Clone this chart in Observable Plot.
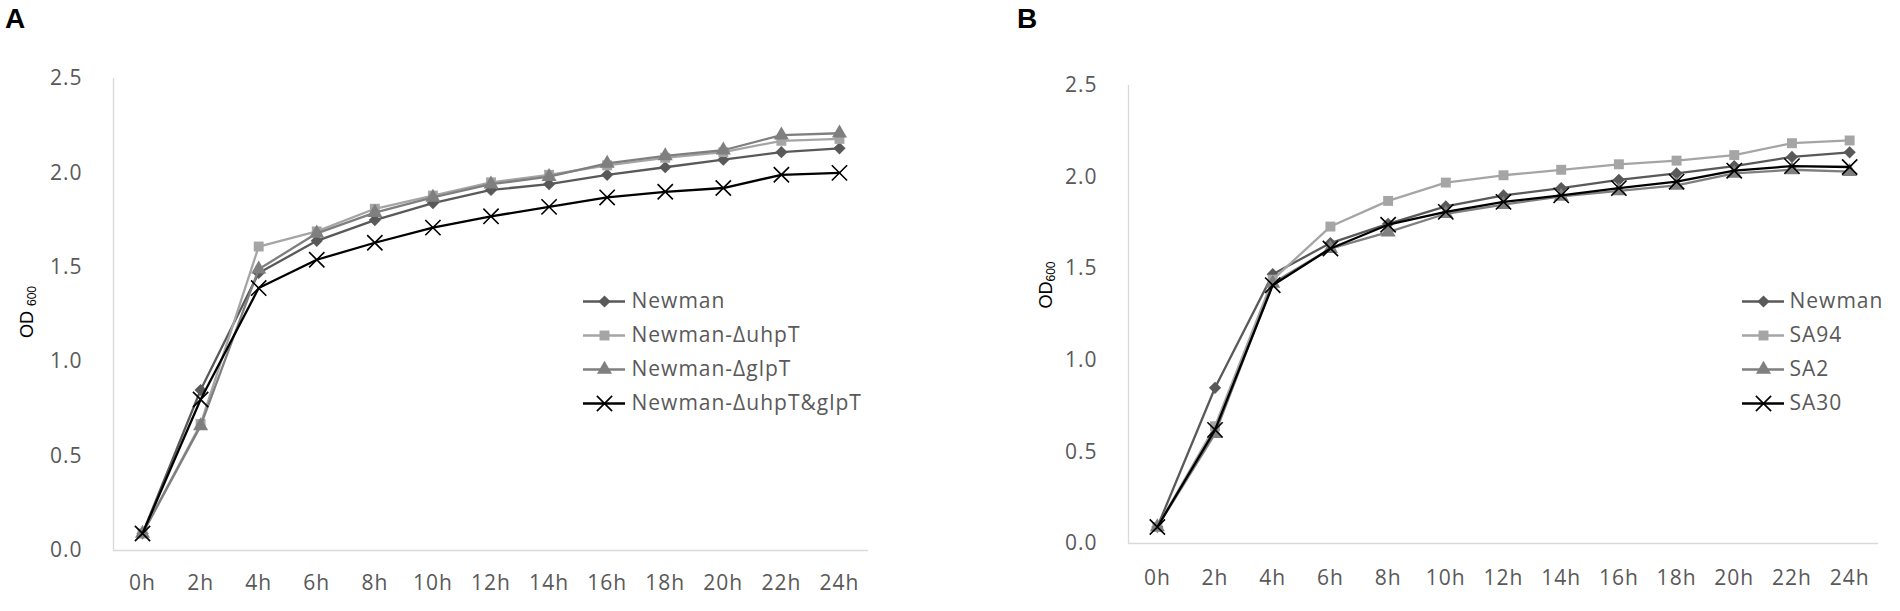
<!DOCTYPE html>
<html>
<head>
<meta charset="utf-8">
<script src="https://cdn.jsdelivr.net/npm/d3@7"></script>
<script src="https://cdn.jsdelivr.net/npm/@observablehq/plot@0.6"></script>
<style>
  html, body { margin: 0; padding: 0; background: #fff; }
  #root { position: relative; width: 1900px; height: 611px; background: #fff; overflow: hidden; }
  .abs { position: absolute; }
  .abs svg { max-width: none !important; }
  .letter { font-family: "Liberation Sans", Arial, sans-serif; font-weight: bold; font-size: 28px; color: #000; line-height: 1; }
  .ylab { font-family: "Liberation Sans", Arial, sans-serif; font-size: 18px; color: #000; white-space: nowrap; line-height: 1;
          transform: translate(-50%, -50%) rotate(-90deg); }
  .ylab span { font-size: 12px; vertical-align: -3px; }
</style>
</head>
<body>
<div id="root"></div>
<script>
// ---- data ----
const timeLabels = ["0h", "2h", "4h", "6h", "8h", "10h", "12h", "14h", "16h", "18h", "20h", "22h", "24h"];
const yTicks = [0, 0.5, 1.0, 1.5, 2.0, 2.5];

// Panel A
const seriesA = ["Newman", "Newman-ΔuhpT", "Newman-ΔglpT", "Newman-ΔuhpT&glpT"];
const newmanA = [0.09, 0.85, 1.47, 1.64, 1.75, 1.84, 1.91, 1.94, 1.99, 2.03, 2.07, 2.11, 2.13];
const uhpTA   = [0.09, 0.67, 1.61, 1.69, 1.81, 1.88, 1.95, 1.99, 2.04, 2.08, 2.11, 2.17, 2.18];
const glpTA   = [0.09, 0.66, 1.49, 1.68, 1.79, 1.87, 1.94, 1.98, 2.05, 2.09, 2.12, 2.20, 2.21];
const doubleA = [0.09, 0.80, 1.39, 1.54, 1.63, 1.71, 1.77, 1.82, 1.87, 1.90, 1.92, 1.99, 2.00];

// Panel B
const seriesB = ["Newman", "SA94", "SA2", "SA30"];
const newmanB = [0.09, 0.85, 1.47, 1.64, 1.745, 1.84, 1.90, 1.94, 1.985, 2.02, 2.06, 2.11, 2.135];
const sa94B   = [0.09, 0.64, 1.44, 1.73, 1.87, 1.97, 2.01, 2.04, 2.07, 2.09, 2.12, 2.185, 2.20];
const sa2B    = [0.09, 0.60, 1.42, 1.61, 1.70, 1.80, 1.85, 1.895, 1.925, 1.955, 2.02, 2.04, 2.03];
const sa30B   = [0.09, 0.62, 1.41, 1.61, 1.74, 1.81, 1.865, 1.90, 1.94, 1.975, 2.035, 2.06, 2.055];

// ---- styles ----
const colors  = ["#595959", "#a5a5a5", "#7f7f7f", "#000000"];
const symbols = ["diamond2", "square", "triangle", "times"];
const radii   = [5.5, 5.6, 5.6, 7];

const hours = timeLabels.map(s => parseFloat(s));
const root = document.getElementById("root");

function seriesMarks(values) {
  const marks = [];
  values.forEach((vals, i) => {
    const rows = vals.map((v, j) => ({t: hours[j], v}));
    marks.push(Plot.line(rows, {x: "t", y: "v", stroke: colors[i], strokeWidth: 2.3}));
    const isTimes = symbols[i] === "times";
    marks.push(Plot.dot(rows, {
      x: "t", y: "v", symbol: symbols[i], r: radii[i],
      fill: isTimes ? "none" : colors[i],
      stroke: isTimes ? colors[i] : "none",
      strokeWidth: isTimes ? 1.6 : 0
    }));
  });
  return marks;
}

function panel(values, m, xPad) {
  return Plot.plot({
    width: 950, height: 611,
    marginLeft: m.left, marginRight: m.right, marginTop: m.top, marginBottom: m.bottom,
    x: {domain: [-1, 25], ticks: hours, tickFormat: d => timeLabels[hours.indexOf(d)], tickSize: 0, tickPadding: xPad, label: null},
    y: {domain: [0, 2.5], ticks: yTicks, tickFormat: d3.format(".1f"), tickSize: 0, tickPadding: 31, label: null},
    style: {fontFamily: "'Open Sans', sans-serif", fontSize: "21px", color: "#595959", background: "transparent", letterSpacing: "1px", overflow: "visible"},
    marks: [
      Plot.ruleX([-1], {stroke: "#d9d9d9", strokeWidth: 1.3}),
      Plot.ruleY([0], {stroke: "#d9d9d9", strokeWidth: 1.3}),
      ...seriesMarks(values)
    ]
  });
}

function legend(names, textDx, w) {
  const marks = [];
  names.forEach((n, i) => {
    const isTimes = symbols[i] === "times";
    marks.push(Plot.ruleY([n], {y: d => d, x1: 0, x2: 1, stroke: colors[i], strokeWidth: 2.3}));
    marks.push(Plot.dot([n], {x: () => 0.5, y: d => d, symbol: symbols[i], r: radii[i],
      fill: isTimes ? "none" : colors[i], stroke: isTimes ? colors[i] : "none", strokeWidth: isTimes ? 1.6 : 0}));
    marks.push(Plot.text([n], {x: () => 1, y: d => d, text: d => d, dx: textDx, textAnchor: "start", fill: "#595959"}));
  });
  return Plot.plot({
    width: w, height: 611, margin: 0,
    x: {domain: [0, 1], range: [0, 42], axis: null},
    y: {type: "point", domain: names, range: [284, 420], axis: null},
    style: {fontFamily: "'Open Sans', sans-serif", fontSize: "21px", color: "#595959", background: "transparent", letterSpacing: "1px", overflow: "visible"},
    marks
  });
}

function place(el, left, top, width) {
  const d = document.createElement("div");
  d.className = "abs";
  d.style.left = left + "px";
  d.style.top = top + "px";
  if (width) d.style.width = width + "px";
  d.appendChild(el);
  root.appendChild(d);
  return d;
}

function html(cls, content, left, top) {
  const d = document.createElement("div");
  d.className = "abs " + cls;
  d.style.left = left + "px";
  d.style.top = top + "px";
  d.innerHTML = content;
  root.appendChild(d);
}

// Panel A
place(panel([newmanA, uhpTA, glpTA, doubleA], {left: 113, right: 82, top: 78, bottom: 61}, 25), 0, 0, 950);
place(legend(seriesA, 6, 320), 583, 0, 320);
// Panel B
place(panel([newmanB, sa94B, sa2B, sa30B], {left: 178, right: 22, top: 85, bottom: 68}, 27), 950, 0, 950);
place(legend(seriesB, 5, 158), 1742, 0, 158);

// Panel letters and y-axis titles
html("letter", "A", 5, 5);
html("letter", "B", 1017, 5);
html("ylab", "OD <span>600</span>", 27.5, 312);
html("ylab", "OD<span>600</span>", 1047, 285);
</script>
</body>
</html>
